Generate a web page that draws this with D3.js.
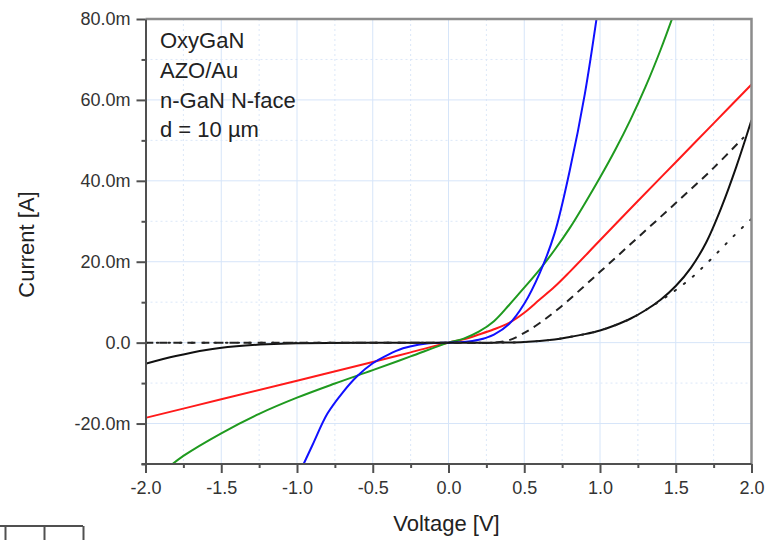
<!DOCTYPE html>
<html>
<head>
<meta charset="utf-8">
<script src="https://cdn.jsdelivr.net/npm/d3@7"></script>
<style>
    body { margin: 0; background: #fff; }
    svg { display: block; font-family: "Liberation Sans", Arial, sans-serif; }
    .grid-major { stroke: #d6e5f9; stroke-width: 1; }
    .grid-minor { stroke: #dbe7f8; stroke-width: 1; stroke-dasharray: 2,3; }
    .axis path, .axis line { stroke: #505050; stroke-width: 2; }
    .axis text { fill: #333; font-size: 18px; }
    .curve { fill: none; stroke-width: 2; }
</style>
</head>
<body>
<div class="container"></div>
<script>
const WIDTH = 782;
const HEIGHT = 540;
const LEFT = 145.5;
const RIGHT = 751.5;
const TOP = 19;
const BOTTOM = 464;

// voltage [V] / current [mA]
var xMajor = [-2.0, -1.5, -1.0, -0.5, 0.0, 0.5, 1.0, 1.5, 2.0];
var xMinor = [-1.75, -1.25, -0.75, -0.25, 0.25, 0.75, 1.25, 1.75];
var yMajor = [-20, 0, 20, 40, 60, 80];
var yMinor = [-30, -10, 10, 30, 50, 70];

var notes = ['OxyGaN', 'AZO/Au', 'n-GaN N-face', 'd = 10 \u00b5m'];

var blueV = [-1.0, -0.9, -0.8, -0.7, -0.6, -0.5, -0.4, -0.3, -0.2, -0.1, 0.0, 0.1, 0.2, 0.3, 0.4, 0.5, 0.6, 0.7, 0.8, 0.9, 1.0];
var blueI = [-33.5, -25.5, -17.6, -12.4, -8.2, -5.1, -3.0, -1.4, -0.5, -0.1, 0.0, 0.15, 0.7, 2.0, 4.6, 9.6, 17.0, 27.0, 42.5, 61.5, 86.0];

var greenV = [-1.9, -1.75, -1.5, -1.25, -1.0, -0.75, -0.5, -0.25, 0.0, 0.1, 0.2, 0.3, 0.4, 0.5, 0.6, 0.7, 0.8, 0.9, 1.0, 1.1, 1.2, 1.3, 1.4, 1.5];
var greenI = [-32.4, -28.0, -22.4, -17.6, -13.6, -10.1, -6.8, -3.4, 0.0, 1.0, 2.7, 5.3, 9.3, 13.6, 18.0, 22.9, 28.3, 34.4, 40.8, 47.6, 55.0, 63.2, 72.4, 82.6];

var redV = [-2.0, -1.5, -1.0, -0.5, -0.25, 0.0, 0.1, 0.2, 0.3, 0.4, 0.5, 0.6, 0.7, 0.8, 1.0, 1.25, 1.5, 1.75, 2.0];
var redI = [-18.6, -14.0, -9.4, -4.8, -2.4, 0.0, 0.8, 2.0, 3.3, 4.9, 7.4, 10.6, 13.8, 17.5, 25.3, 35.0, 44.6, 54.2, 63.8];

var solidV = [-2.0, -1.8, -1.6, -1.4, -1.2, -1.0, -0.5, 0.0, 0.3, 0.5, 0.7, 0.8, 0.9, 1.0, 1.1, 1.2, 1.3, 1.4, 1.5, 1.6, 1.7, 1.8, 1.9, 2.0];
var solidI = [-5.2, -3.3, -1.8, -0.9, -0.4, -0.15, -0.02, 0.0, 0.0, 0.15, 0.8, 1.4, 2.1, 3.0, 4.3, 5.9, 8.0, 10.6, 14.0, 18.5, 24.7, 33.3, 43.5, 55.0];

var dashV = [-2.0, -1.0, 0.0, 0.3, 0.4, 0.5, 0.6, 0.73, 1.0, 1.25, 1.5, 1.75, 1.95];
var dashI = [0.0, 0.0, 0.0, 0.0, 0.6, 2.4, 4.8, 8.5, 17.5, 26.0, 34.5, 43.2, 50.8];

var dotV = [-2.0, -1.0, 0.0, 0.3, 0.5, 0.7, 0.8, 0.9, 1.0, 1.1, 1.2, 1.3, 1.4, 1.5, 1.6, 1.7, 1.8, 1.9, 2.0];
var dotI = [0.0, 0.0, 0.0, 0.0, 0.15, 0.8, 1.4, 2.1, 3.0, 4.3, 5.9, 8.0, 10.4, 13.0, 15.9, 19.4, 23.2, 27.0, 30.6];

var series = [
    {v: redV, i: redI, color: '#ff1a1a', dash: null},
    {v: greenV, i: greenI, color: '#1f9a1f', dash: null},
    {v: blueV, i: blueI, color: '#1010ff', dash: null},
    {v: solidV, i: solidI, color: '#111', dash: null},
    {v: dashV, i: dashI, color: '#222', dash: '8,6'},
    {v: dotV, i: dotI, color: '#222', dash: '1.5,10'}
];

var _xScale = d3.scaleLinear().domain([-2, 2]).range([LEFT, RIGHT]);
var _yScale = d3.scaleLinear().domain([-30, 80]).range([BOTTOM, TOP]);

var _svg;

var createSvg = function () {
    _svg = d3.select('.container').append('svg').attr('width', WIDTH).attr('height', HEIGHT);
    _svg.append('defs').append('clipPath').attr('id', 'plot-clip')
        .append('rect')
        .attr('x', LEFT).attr('y', TOP)
        .attr('width', RIGHT - LEFT).attr('height', BOTTOM - TOP);
};

var drawGrid = function () {
    var g = _svg.append('g');
    g.selectAll('.gx-minor').data(xMinor).enter().append('line')
        .attr('class', 'grid-minor')
        .attr('x1', d => _xScale(d)).attr('x2', d => _xScale(d))
        .attr('y1', TOP).attr('y2', BOTTOM);
    g.selectAll('.gy-minor').data(yMinor).enter().append('line')
        .attr('class', 'grid-minor')
        .attr('x1', LEFT).attr('x2', RIGHT)
        .attr('y1', d => _yScale(d)).attr('y2', d => _yScale(d));
    g.selectAll('.gx-major').data(xMajor).enter().append('line')
        .attr('class', 'grid-major')
        .attr('x1', d => _xScale(d)).attr('x2', d => _xScale(d))
        .attr('y1', TOP).attr('y2', BOTTOM);
    g.selectAll('.gy-major').data(yMajor).enter().append('line')
        .attr('class', 'grid-major')
        .attr('x1', LEFT).attr('x2', RIGHT)
        .attr('y1', d => _yScale(d)).attr('y2', d => _yScale(d));
};

var drawCurves = function () {
    var line = d3.line()
        .x(d => _xScale(d[0]))
        .y(d => _yScale(d[1]))
        .curve(d3.curveCatmullRom.alpha(0.5));

    var g = _svg.append('g').attr('clip-path', 'url(#plot-clip)');
    series.forEach(function (s) {
        var dotted = s.dash === '1.5,10';
        g.append('path')
            .datum(d3.zip(s.v, s.i))
            .attr('class', 'curve')
            .attr('stroke', s.color)
            .attr('stroke-dasharray', s.dash)
            .attr('stroke-linecap', dotted ? 'round' : 'butt')
            .attr('stroke-width', dotted ? 2.5 : 2)
            .attr('d', line);
    });
};

var formatI = function (d) {
    return d === 0 ? '0.0' : d.toFixed(1) + 'm';
};

var drawAxis = function () {
    // frame top / right
    _svg.append('path')
        .attr('d', 'M' + LEFT + ',' + TOP + 'H' + RIGHT + 'V' + BOTTOM)
        .attr('fill', 'none')
        .attr('stroke', '#8c8c8c')
        .attr('stroke-width', 2.5);

    _svg.append('g').attr('class', 'axis')
        .attr('transform', 'translate(0,' + BOTTOM + ')')
        .call(d3.axisBottom(_xScale).tickValues(xMinor).tickSize(4).tickFormat(''))
        .select('.domain').remove();
    var xa = _svg.append('g').attr('class', 'axis')
        .attr('transform', 'translate(0,' + BOTTOM + ')')
        .call(d3.axisBottom(_xScale).tickValues(xMajor).tickSize(9).tickSizeOuter(0)
            .tickPadding(8).tickFormat(d => d.toFixed(1)));
    xa.select('.domain').attr('d', 'M' + (LEFT - 4) + ',0H' + RIGHT);

    _svg.append('g').attr('class', 'axis')
        .attr('transform', 'translate(' + LEFT + ',0)')
        .call(d3.axisLeft(_yScale).tickValues(yMinor).tickSize(4).tickFormat(''))
        .select('.domain').remove();
    _svg.append('g').attr('class', 'axis')
        .attr('transform', 'translate(' + LEFT + ',0)')
        .call(d3.axisLeft(_yScale).tickValues(yMajor).tickSize(9).tickSizeOuter(0)
            .tickPadding(6).tickFormat(formatI));

    _svg.append('text')
        .attr('x', (LEFT + RIGHT) / 2 - 2)
        .attr('y', 531)
        .attr('text-anchor', 'middle')
        .attr('font-size', 22)
        .attr('fill', '#222')
        .text('Voltage [V]');

    _svg.append('text')
        .attr('transform', 'translate(34,' + ((TOP + BOTTOM) / 2 + 3) + ') rotate(-90)')
        .attr('text-anchor', 'middle')
        .attr('font-size', 22)
        .attr('fill', '#222')
        .text('Current [A]');
};

var drawNotes = function () {
    _svg.append('g').selectAll('text')
        .data(notes)
        .enter().append('text')
        .attr('x', 160)
        .attr('y', (d, i) => 48 + i * 29.8)
        .attr('font-size', 22)
        .attr('fill', '#222')
        .text(d => d);
};

// cut-off piece of a neighbouring panel at the bottom left
var drawStub = function () {
    var s = d3.scaleLinear().domain([0, 2]).range([5, 83]);
    var g = _svg.append('g').attr('class', 'axis')
        .attr('transform', 'translate(0,526)')
        .call(d3.axisBottom(s).tickValues([0, 1, 2]).tickSize(16).tickSizeOuter(0).tickFormat(''));
    g.selectAll('path, line').attr('stroke', '#666');
    g.select('.domain').attr('d', 'M0,0H83');
};

window.onload = function () {
    createSvg();
    drawGrid();
    drawCurves();
    drawAxis();
    drawNotes();
    drawStub();
};
</script>
</body>
</html>
